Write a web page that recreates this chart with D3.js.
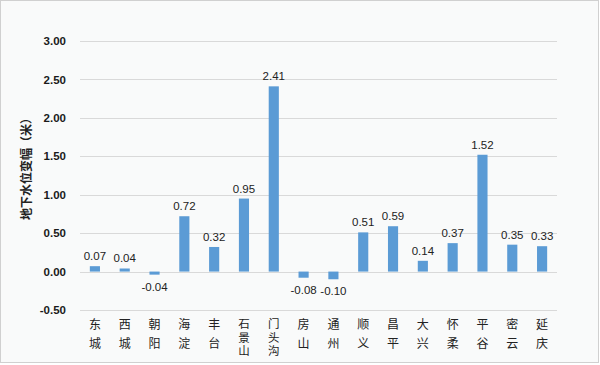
<!DOCTYPE html>
<html><head><meta charset="utf-8">
<script src="https://cdn.jsdelivr.net/npm/d3@7"></script>
<style>
html,body{margin:0;padding:0;background:#fff;}
svg{display:block;}
</style></head>
<body>
<svg id="c" width="600" height="365"></svg>
<script>
const categories = ["东城","西城","朝阳","海淀","丰台","石景山","门头沟","房山","通州","顺义","昌平","大兴","怀柔","平谷","密云","延庆"];
const values = [0.07,0.04,-0.04,0.72,0.32,0.95,2.41,-0.08,-0.10,0.51,0.59,0.14,0.37,1.52,0.35,0.33];
const tickValues = [-0.5,0,0.5,1.0,1.5,2.0,2.5,3.0];
const yTitle = "地下水位变幅（米）";

const fmt = d => d3.format(".2f")(d).replace("\u2212","-");

const svg = d3.select("#c");
svg.append("rect").attr("x",0.5).attr("y",0.5).attr("width",598).attr("height",362)
  .attr("fill","#f9fafa").attr("stroke","#d0d0d0");

const x = d3.scaleBand().domain(categories).range([80,557]).paddingInner(0.66).paddingOuter(0.33);
const y = d3.scaleLinear().domain([-0.5,3.0]).range([310,41]);

// gridlines
svg.append("g").selectAll("line").data(tickValues).join("line")
  .attr("x1",80).attr("x2",557)
  .attr("y1",d=>Math.round(y(d))+0.5).attr("y2",d=>Math.round(y(d))+0.5)
  .attr("stroke","#d9d9d9").attr("stroke-width",1);

// y axis labels
const yAxis = d3.axisLeft(y).tickValues(tickValues).tickFormat(fmt).tickSize(0).tickPadding(0);
const ga = svg.append("g").attr("transform","translate(66,0)").call(yAxis);
ga.select(".domain").remove();
ga.selectAll("text").attr("font-family","Liberation Sans, Arial, sans-serif").attr("font-size",11.5)
  .attr("font-weight","bold").attr("fill","#1a1a1a");

// bars
svg.append("g").selectAll("rect").data(values).join("rect")
  .attr("x",(d,i)=>x(categories[i]))
  .attr("width",x.bandwidth())
  .attr("y",d=>y(Math.max(0,d)))
  .attr("height",d=>Math.abs(y(d)-y(0)))
  .attr("fill","#5b9bd5");

// value labels
svg.append("g").selectAll("text").data(values).join("text")
  .attr("x",(d,i)=>x(categories[i])+x.bandwidth()/2)
  .attr("y",d=> d>=0 ? y(d)-6 : y(d)+16)
  .attr("text-anchor","middle")
  .attr("font-family","Liberation Sans, Arial, sans-serif").attr("font-size",11.5)
  .attr("fill","#222")
  .text(fmt);

// category labels (vertical text)
const gc = svg.append("g");
categories.forEach((c,i)=>{
  const cx = x(c)+x.bandwidth()/2;
  const n = Array.from(c).length;
  const fs = n>2 ? 11.5 : 12;
  const step = n>2 ? 13.5 : 19;
  gc.append("text").attr("x",cx).attr("y",318)
    .attr("text-anchor","start")
    .style("writing-mode","vertical-rl")
    .attr("font-family","Noto Sans CJK SC, sans-serif").attr("font-size",fs)
    .attr("letter-spacing",step-fs)
    .attr("fill","#222").text(c);
});

// y title
svg.append("text").attr("transform","translate(31,166) rotate(-90)")
  .attr("text-anchor","middle")
  .attr("font-family","Noto Sans CJK SC, sans-serif").attr("font-size",12).attr("font-weight","bold")
  .attr("fill","#222").text(yTitle);
</script>
</body></html>
